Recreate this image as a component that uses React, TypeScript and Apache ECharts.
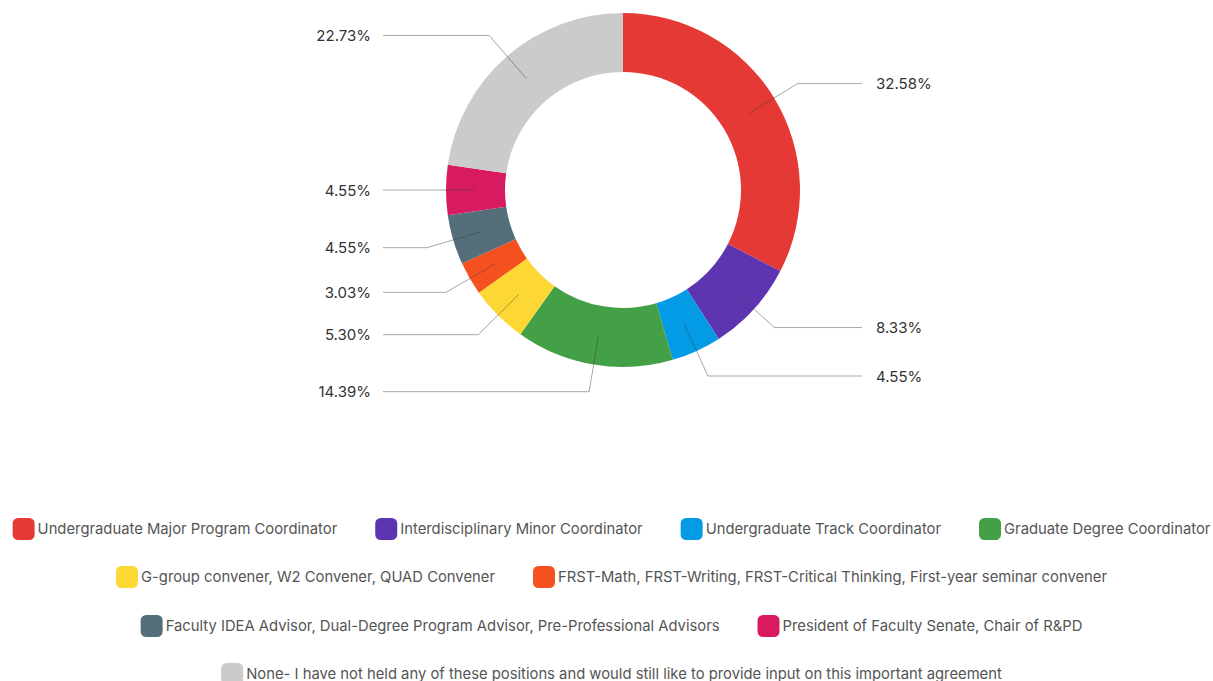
import React, { useEffect, useRef } from "react";
import * as echarts from "echarts";

const categories = [
  "Undergraduate Major Program Coordinator",
  "Interdisciplinary Minor Coordinator",
  "Undergraduate Track Coordinator",
  "Graduate Degree Coordinator",
  "G-group convener, W2 Convener, QUAD Convener",
  "FRST-Math, FRST-Writing, FRST-Critical Thinking, First-year seminar convener",
  "Faculty IDEA Advisor, Dual-Degree Program Advisor, Pre-Professional Advisors",
  "President of Faculty Senate, Chair of R&PD",
  "None- I have not held any of these positions and would still like to provide input on this important agreement",
];
const percentages = [32.58, 8.33, 4.55, 14.39, 5.3, 3.03, 4.55, 4.55, 22.73];
const colors = [
  "#E53935",
  "#5E35B1",
  "#039BE5",
  "#43A047",
  "#FDD835",
  "#F4511E",
  "#546E7A",
  "#D81B60",
  "#CBCBCB",
];
const legendRows = [
  [0, 1, 2, 3],
  [4, 5],
  [6, 7],
  [8],
];

const SHIFT = 5;
const CX = 623 - SHIFT;
const CY = 190;
const FONT = "Inter, 'Noto Sans', sans-serif";

export default function App() {
  const ref = useRef<HTMLDivElement>(null);
  useEffect(() => {
    if (!ref.current) return;
    const chart = echarts.init(ref.current, null, { renderer: "svg" });
    const data = categories.map((name, i) => ({
      name,
      value: percentages[i],
      itemStyle: { color: colors[i] },
    }));
    const rowTops = [513, 561, 610, 658];
    const legends = legendRows.map((row, r) => ({
      show: true,
      top: rowTops[r],
      left: "center",
      orient: "horizontal",
      itemWidth: 22,
      itemHeight: 22,
      itemGap: 38,
      icon: "roundRect",
      selectedMode: false,
      textStyle: { fontFamily: FONT, fontSize: 14.8, color: "#555555", padding: [0, 0, 0, -2] },
      data: row.map((i) => ({ name: categories[i], itemStyle: { color: colors[i] } })),
    }));
    chart.setOption({
      animation: false,
      legend: legends,
      series: [
        {
          type: "pie",
          center: [CX, CY],
          radius: [118, 177],
          startAngle: 90,
          silent: true,
          label: { show: false },
          labelLine: { show: false },
          data,
          z: 2,
        },
        {
          type: "pie",
          center: [CX, CY],
          radius: [118, 147.5],
          startAngle: 90,
          silent: true,
          z: 3,
          itemStyle: { color: "rgba(0,0,0,0)" },
          data: categories.map((name, i) => ({ name, value: percentages[i] })),
          label: {
            show: true,
            position: "outside",
            formatter: (p: any) => p.value.toFixed(2) + "%",
            fontFamily: FONT,
            fontSize: 15,
            color: "#333333",
          },
          labelLine: {
            show: true,
            length: 57,
            length2: 10,
            lineStyle: { color: "rgba(60,60,60,0.45)", width: 1 },
          },
          labelLayout: (params: any) => {
            const pts = params.labelLinePoints;
            if (!pts) return {};
            const left = pts[1][0] < CX;
            const y = pts[1][1];
            return {
              x: left ? CX - 252 : CX + 253,
              y,
              align: left ? "right" : "left",
              verticalAlign: "middle",
              labelLinePoints: [pts[0], pts[1], [left ? CX - 240 : CX + 239, y]],
            };
          },
        },
      ],
    });
    return () => chart.dispose();
  }, []);
  return (
    <div
      ref={ref}
      style={{ position: "fixed", left: SHIFT, top: 0, width: 1213, height: 681, background: "#fff" }}
    />
  );
}
